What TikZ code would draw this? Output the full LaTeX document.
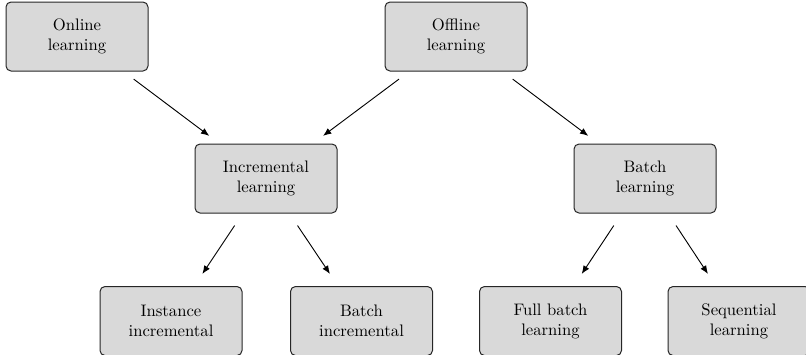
\documentclass[tikz,border=0pt]{standalone}
\usetikzlibrary{arrows.meta,calc}
\begin{document}
\begin{tikzpicture}[x=0.6pt,y=-0.6pt,
  box/.style={draw=black!85,fill=gray!30,rounded corners=3pt,line width=0.6pt,
    minimum width=85.2pt,minimum height=41.4pt,inner sep=0pt,align=center,
    font=\normalsize},
  link/.style={-{Latex[length=5pt,width=4pt]},line width=0.55pt}]
\useasboundingbox (0,0) rectangle (806,354);
% top level
\node[box] (online)  at (77,36.5)  {Online\\learning};
\node[box] (offline) at (456,36.5) {Offline\\learning};
% middle level
\node[box] (incr)  at (266,178.5) {Incremental\\learning};
\node[box] (batch) at (645,178.5) {Batch\\learning};
% bottom level
\node[box] (inst)  at (171,321)   {Instance\\incremental};
\node[box] (bincr) at (361.5,321) {Batch\\incremental};
\node[box] (full)  at (550.5,321) {Full batch\\learning};
\node[box] (seq)   at (739,321)   {Sequential\\learning};
% connectors
\draw[link] ($(online)!0.3!(incr)$) -- ($(online)!0.7!(incr)$);
\draw[link] ($(offline)!0.3!(incr)$) -- ($(offline)!0.7!(incr)$);
\draw[link] ($(offline)!0.3!(batch)$) -- ($(offline)!0.7!(batch)$);
\draw[link] ($(incr)!0.33!(inst)$) -- ($(incr)!0.67!(inst)$);
\draw[link] ($(incr)!0.33!(bincr)$) -- ($(incr)!0.67!(bincr)$);
\draw[link] ($(batch)!0.33!(full)$) -- ($(batch)!0.67!(full)$);
\draw[link] ($(batch)!0.33!(seq)$) -- ($(batch)!0.67!(seq)$);
\end{tikzpicture}
\end{document}
